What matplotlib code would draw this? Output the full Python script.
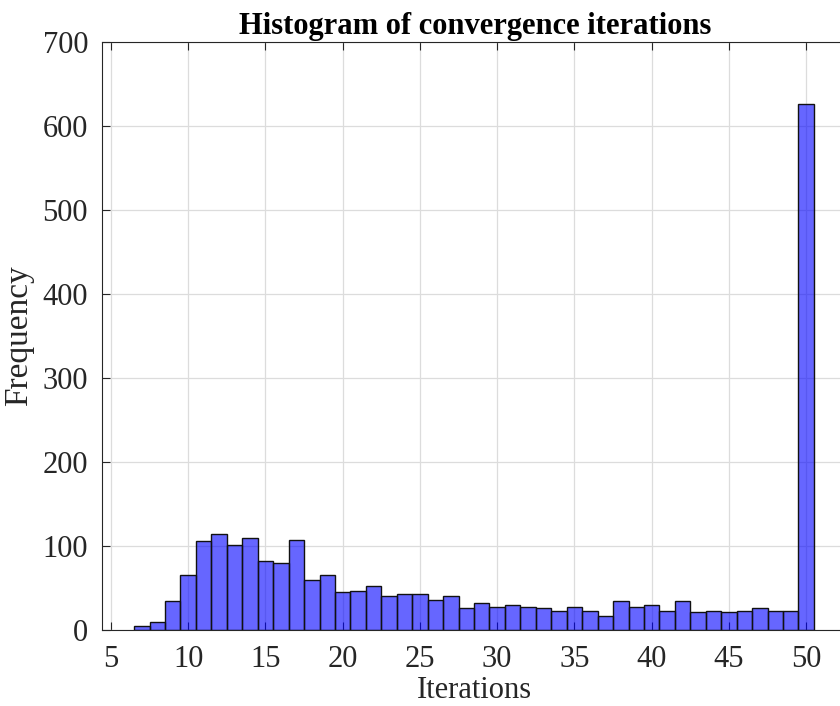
import matplotlib
matplotlib.use("Agg")
import matplotlib.pyplot as plt

# Histogram bins: centre of each unit-wide bin and its count
bin_centers = list(range(7, 51))
counts = [5, 9, 35, 65, 106, 114, 101, 109, 82, 80, 107, 60, 65, 45,
          47, 53, 41, 43, 43, 36, 40, 26, 32, 28, 30, 28, 26, 23, 28,
          23, 17, 35, 27, 30, 23, 35, 21, 23, 21, 23, 26, 23, 23, 626]
x_ticks = list(range(5, 51, 5))
y_ticks = list(range(0, 701, 100))

plt.rcParams['font.family'] = ['Liberation Serif', 'DejaVu Serif']

fig = plt.figure(figsize=(8.4, 7.06), dpi=100)
ax = fig.add_axes([0.1214, 0.1076, 0.888, 0.833])

ax.bar(bin_centers, counts, width=1.0, color=(0.0, 0.0, 1.0, 0.6),
       edgecolor='#111111', linewidth=1.0, zorder=3)

ax.set_xlim(4.42, 52.7)
ax.set_ylim(0, 700)
ax.set_xticks(x_ticks)
ax.set_yticks(y_ticks)
ax.grid(True, color='#dcdcdc', linewidth=0.9, zorder=0)
ax.set_axisbelow(True)

ax.tick_params(direction='in', top=True, right=True, length=6,
               width=0.8, color='#262626', labelsize=22, labelcolor='#262626')
ax.tick_params(axis='x', pad=11)
ax.tick_params(axis='y', pad=10)
for s in ax.spines.values():
    s.set_color('#262626')
    s.set_linewidth(0.8)

ax.set_title('Histogram of convergence iterations', fontsize=22,
             fontweight='bold', pad=6)
ax.set_xlabel('Iterations', fontsize=22, color='#262626', labelpad=1)
ax.set_ylabel('Frequency', fontsize=24, color='#262626', labelpad=6)

fig.savefig('out.png', dpi=100)
